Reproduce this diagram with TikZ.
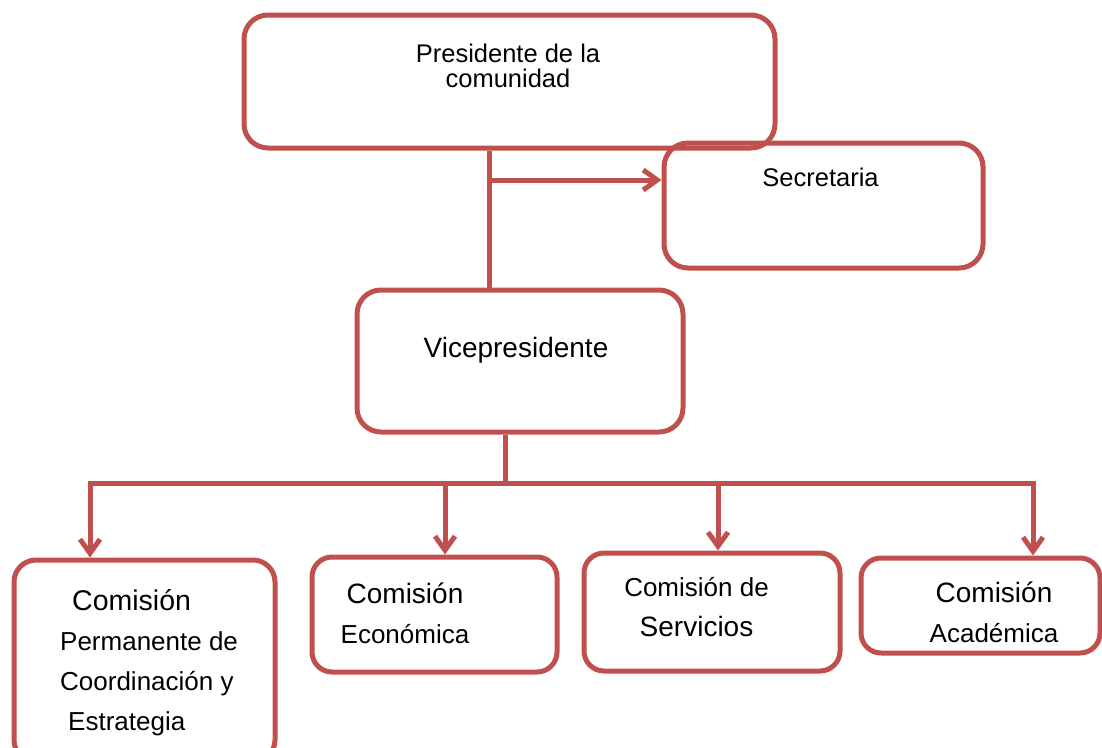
\documentclass[tikz,border=0pt]{standalone}
\usepackage{fontspec}
\setmainfont{Liberation Sans}
\usetikzlibrary{arrows.meta}
\definecolor{rojo}{HTML}{C0504D}
\newcommand{\grande}{\fontsize{28}{40}\selectfont}

\begin{document}
\begin{tikzpicture}[x=1pt,y=-1pt,
        caja/.style={draw=rojo, line width=5pt, rounded corners=24pt, inner sep=0pt},
        linea/.style={draw=rojo, line width=5pt},
        flecha/.style={linea, -{Straight Barb[length=14pt,width=20pt]}},
        texto/.style={inner sep=0pt, align=center, font=\fontsize{25.5}{25}\selectfont},
        textoc/.style={texto, font=\fontsize{26}{40}\selectfont}]
        \useasboundingbox (0,0) rectangle (1102,747);
        % cajas
        \node[caja, minimum width=531pt, minimum height=133pt] (pres) at (509.5,81.5) {};
        \node[caja, minimum width=319pt, minimum height=125pt] (secr) at (823.5,205.5) {};
        \node[caja, minimum width=326pt, minimum height=142pt] (vice) at (520,361) {};
        \node[caja, rounded corners=22pt, minimum width=261pt, minimum height=202pt] (c1) at (144.5,661) {};
        \node[caja, rounded corners=20pt, minimum width=245pt, minimum height=115pt] (c2) at (434.5,614.5) {};
        \node[caja, rounded corners=20pt, minimum width=256pt, minimum height=118pt] (c3) at (712,612) {};
        \node[caja, rounded corners=20pt, minimum width=239pt, minimum height=95pt] (c4) at (980.5,605.5) {};
        % textos
        \node[texto] (prest) at (508,65.5) {Presidente de la\\comunidad};
        \node[texto] (secrt) at (820.5,177.5) {Secretaria};
        \node[texto, font=\fontsize{28}{28}\selectfont] (vicet) at (516,350) {Vicepresidente};
        \node[textoc, align=left, anchor=north west] (c1t) at (60,589)
            {\hspace*{12pt}{\fontsize{28.5}{40}\selectfont Comisión}\\Permanente de\\Coordinación y\\\hspace*{8pt}Estrategia};
        \node[textoc] (c2t) at (405,613) {{\grande Comisión}\\Económica};
        \node[textoc] (c3t) at (696.5,607) {Comisión de\\{\grande Servicios}};
        \node[textoc] (c4t) at (994,612.5) {{\grande Comisión}\\Académica};
        % conectores
        \coordinate (tronco) at (489,180);
        \coordinate (reparto) at (505,483);
        \coordinate (b1) at (90,483);
        \coordinate (b2) at (445,483);
        \coordinate (b3) at (718,483);
        \coordinate (b4) at (1033,483);
        \draw[linea] (tronco |- pres.south) -- (tronco |- vice.north);
        \draw[flecha] (tronco) -- (tronco -| secr.west);
        \draw[linea] (reparto |- vice.south) -- (reparto);
        \draw[flecha] (reparto) -| (b1 |- c1.north);
        \draw[flecha] (reparto) -| (b4 |- c4.north);
        \draw[flecha] (b2) -- (b2 |- c2.north);
        \draw[flecha] (b3) -- (b3 |- c3.north);
    \end{tikzpicture}
\end{document}
